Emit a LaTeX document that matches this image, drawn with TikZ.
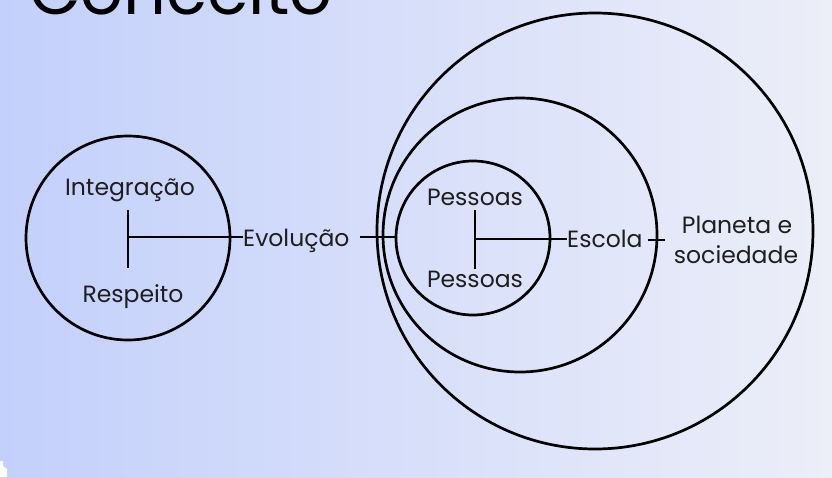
\documentclass[tikz,border=0pt]{standalone}
\usepackage{fontspec}
\setmainfont{Poppins}
\definecolor{bgl}{RGB}{195,208,251}
\definecolor{bgr}{RGB}{236,238,248}
\definecolor{ink}{RGB}{30,30,30}
\begin{document}
\begin{tikzpicture}[x=1pt,y=-1pt,
  ring/.style={draw=black,line width=2.7pt,circle,inner sep=0pt},
  lbl/.style={font=\fontsize{23.5}{27}\selectfont,text=ink,inner sep=0pt},
  bar/.style={draw=black,line width=2.7pt}]
\useasboundingbox (0,0) rectangle (832,477);
% background
\shade[left color=bgl,right color=bgr] (0,0) rectangle (832,477);
\fill[white] (0,461) -- (3,461) -- (3,466) -- (7,469) -- (7,477) -- (0,477) -- cycle;
% title, partly above the top edge
\begin{scope}
  \clip (0,0) rectangle (832,477);
  \node[anchor=base west,inner sep=0pt,text=black,font=\fontsize{67}{76}\selectfont] (title) at (29,14) {Conceito};
\end{scope}
% circles
\node[ring,minimum size=204pt] (left) at (128,238) {};
\node[ring,minimum size=436pt] (large) at (595,231) {};
\node[ring,minimum size=274pt] (medium) at (520,235) {};
\node[ring,minimum size=154pt] (small) at (473,238) {};
% labels
\node[lbl,anchor=base] (integ) at (130,195) {Integração};
\node[lbl,anchor=base] (resp) at (133,302) {Respeito};
\node[lbl,anchor=base west] (evo) at (243,246) {Evolução};
\node[lbl,anchor=base] (pes1) at (475,205) {Pessoas};
\node[lbl,anchor=base] (pes2) at (475,287) {Pessoas};
\node[lbl,anchor=base west] (esc) at (567,247) {Escola};
\node[lbl,anchor=base] (plan1) at (737,233) {Planeta e};
\node[lbl,anchor=base] (plan2) at (736,263) {sociedade};
% left T-bar and its connectors
\coordinate (ltop) at (128,210);
\coordinate (lbot) at (128,268);
\coordinate (lmid) at (128,237);
\draw[bar] (ltop) -- (lbot);
\draw[bar] (lmid) -- (lmid -| evo.west);
\coordinate (evoout) at (360,237);
\draw[bar] (evoout) -- (evoout -| small.west);
% inner T-bar and its connectors
\coordinate (stop) at (475,210);
\coordinate (sbot) at (475,269);
\coordinate (smid) at (475,239);
\draw[bar] (stop) -- (sbot);
\draw[bar] (smid) -- (smid -| esc.west);
\coordinate (escout) at (648,240);
\coordinate (escend) at (665,240);
\draw[bar] (escout) -- (escend);
\end{tikzpicture}
\end{document}
